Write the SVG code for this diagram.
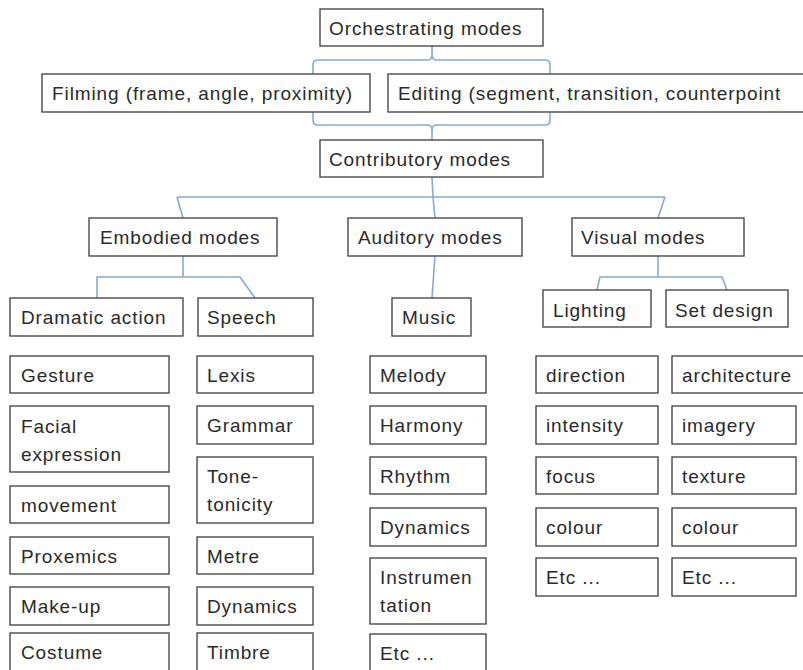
<svg xmlns="http://www.w3.org/2000/svg" width="803" height="670" viewBox="0 0 803 670">
<style>
.b{fill:#fff;stroke:#4a4a4a;stroke-width:1.4}
.t{font-family:"Liberation Sans",Arial,sans-serif;font-size:19px;letter-spacing:0.9px;fill:#2a2a2a}
.c{fill:none;stroke:#86a9d6;stroke-width:1.6}
</style>
<rect width="803" height="670" fill="#fff"/>
<g id="connectors" class="c">
<path d="M313,74 V65 Q313,60 318,60 H427 Q432,60 432,55 V46 M432,55 Q432,60 437,60 H545 Q550,60 550,65 V74"/>
<path d="M313,112 V120 Q313,125 318,125 H427 Q432,125 432,130 V140 M432,130 Q432,125 437,125 H545 Q550,125 550,120 V112"/>
<path d="M432,177 L433,197 L435,218 M177,197 H665 M177,197 L183,218 M665,197 L658,218"/>
<path d="M183,256 V277 M97,298 V277 H240 L255,298"/>
<path d="M435,256 L432,298"/>
<path d="M658,256 V277 M597,290 L600,277 H722 L727,290"/>
</g>
<g id="orchestrating"><rect class="b" x="320" y="9" width="223" height="37"/><text class="t" x="329" y="35">Orchestrating modes</text></g>
<g id="filming"><rect class="b" x="42" y="74" width="328" height="38"/><text class="t" x="52" y="100">Filming (frame, angle, proximity)</text></g>
<g id="editing"><rect class="b" x="388" y="74" width="420" height="38"/><text class="t" x="398" y="100">Editing (segment, transition, counterpoint</text></g>
<g id="contributory"><rect class="b" x="320" y="140" width="223" height="37"/><text class="t" x="329" y="166">Contributory modes</text></g>
<g id="embodied"><rect class="b" x="89" y="218" width="188" height="38"/><text class="t" x="100" y="244">Embodied modes</text></g>
<g id="auditory"><rect class="b" x="348" y="218" width="174" height="38"/><text class="t" x="358" y="244">Auditory modes</text></g>
<g id="visual"><rect class="b" x="572" y="218" width="172" height="38"/><text class="t" x="581" y="244">Visual modes</text></g>
<g id="dramatic"><rect class="b" x="10" y="298" width="173" height="38"/><text class="t" x="21" y="324">Dramatic action</text></g>
<g id="speech"><rect class="b" x="198" y="298" width="115" height="38"/><text class="t" x="207" y="324">Speech</text></g>
<g id="music"><rect class="b" x="392" y="298" width="79" height="38"/><text class="t" x="402" y="324">Music</text></g>
<g id="lighting"><rect class="b" x="543" y="290" width="108" height="37"/><text class="t" x="553" y="317">Lighting</text></g>
<g id="setdesign"><rect class="b" x="666" y="290" width="122" height="37"/><text class="t" x="675" y="317">Set design</text></g>

<g id="gesture"><rect class="b" x="10" y="356" width="159" height="37"/><text class="t" x="21" y="382">Gesture</text></g>
<g id="facial"><rect class="b" x="10" y="406" width="159" height="66"/><text class="t" x="21" y="433">Facial</text><text class="t" x="21" y="461">expression</text></g>
<g id="movement"><rect class="b" x="10" y="486" width="159" height="37"/><text class="t" x="21" y="512">movement</text></g>
<g id="proxemics"><rect class="b" x="10" y="537" width="159" height="37"/><text class="t" x="21" y="563">Proxemics</text></g>
<g id="makeup"><rect class="b" x="10" y="587" width="159" height="38"/><text class="t" x="21" y="613">Make-up</text></g>
<g id="costume"><rect class="b" x="10" y="633" width="159" height="47"/><text class="t" x="21" y="659">Costume</text></g>

<g id="lexis"><rect class="b" x="197" y="356" width="116" height="37"/><text class="t" x="207" y="382">Lexis</text></g>
<g id="grammar"><rect class="b" x="197" y="406" width="116" height="38"/><text class="t" x="207" y="432">Grammar</text></g>
<g id="tone"><rect class="b" x="197" y="457" width="116" height="66"/><text class="t" x="207" y="483">Tone-</text><text class="t" x="207" y="511">tonicity</text></g>
<g id="metre"><rect class="b" x="197" y="537" width="116" height="37"/><text class="t" x="207" y="563">Metre</text></g>
<g id="dynamics1"><rect class="b" x="197" y="587" width="116" height="38"/><text class="t" x="207" y="613">Dynamics</text></g>
<g id="timbre"><rect class="b" x="197" y="633" width="116" height="47"/><text class="t" x="207" y="659">Timbre</text></g>

<g id="melody"><rect class="b" x="370" y="356" width="116" height="37"/><text class="t" x="380" y="382">Melody</text></g>
<g id="harmony"><rect class="b" x="370" y="406" width="116" height="38"/><text class="t" x="380" y="432">Harmony</text></g>
<g id="rhythm"><rect class="b" x="370" y="457" width="116" height="37"/><text class="t" x="380" y="483">Rhythm</text></g>
<g id="dynamics2"><rect class="b" x="370" y="508" width="116" height="38"/><text class="t" x="380" y="534">Dynamics</text></g>
<g id="instrumentation"><rect class="b" x="370" y="558" width="116" height="66"/><text class="t" x="380" y="584">Instrumen</text><text class="t" x="380" y="612">tation</text></g>
<g id="etc1"><rect class="b" x="370" y="634" width="116" height="46"/><text class="t" x="380" y="660">Etc ...</text></g>

<g id="direction"><rect class="b" x="536" y="356" width="122" height="37"/><text class="t" x="546" y="382">direction</text></g>
<g id="intensity"><rect class="b" x="536" y="406" width="122" height="38"/><text class="t" x="546" y="432">intensity</text></g>
<g id="focus"><rect class="b" x="536" y="457" width="122" height="37"/><text class="t" x="546" y="483">focus</text></g>
<g id="colour1"><rect class="b" x="536" y="508" width="122" height="38"/><text class="t" x="546" y="534">colour</text></g>
<g id="etc2"><rect class="b" x="536" y="558" width="122" height="38"/><text class="t" x="546" y="584">Etc ...</text></g>

<g id="architecture"><rect class="b" x="672" y="356" width="140" height="37"/><text class="t" x="682" y="382">architecture</text></g>
<g id="imagery"><rect class="b" x="672" y="406" width="124" height="38"/><text class="t" x="682" y="432">imagery</text></g>
<g id="texture"><rect class="b" x="672" y="457" width="124" height="37"/><text class="t" x="682" y="483">texture</text></g>
<g id="colour2"><rect class="b" x="672" y="508" width="124" height="38"/><text class="t" x="682" y="534">colour</text></g>
<g id="etc3"><rect class="b" x="672" y="558" width="124" height="38"/><text class="t" x="682" y="584">Etc ...</text></g>
</svg>
